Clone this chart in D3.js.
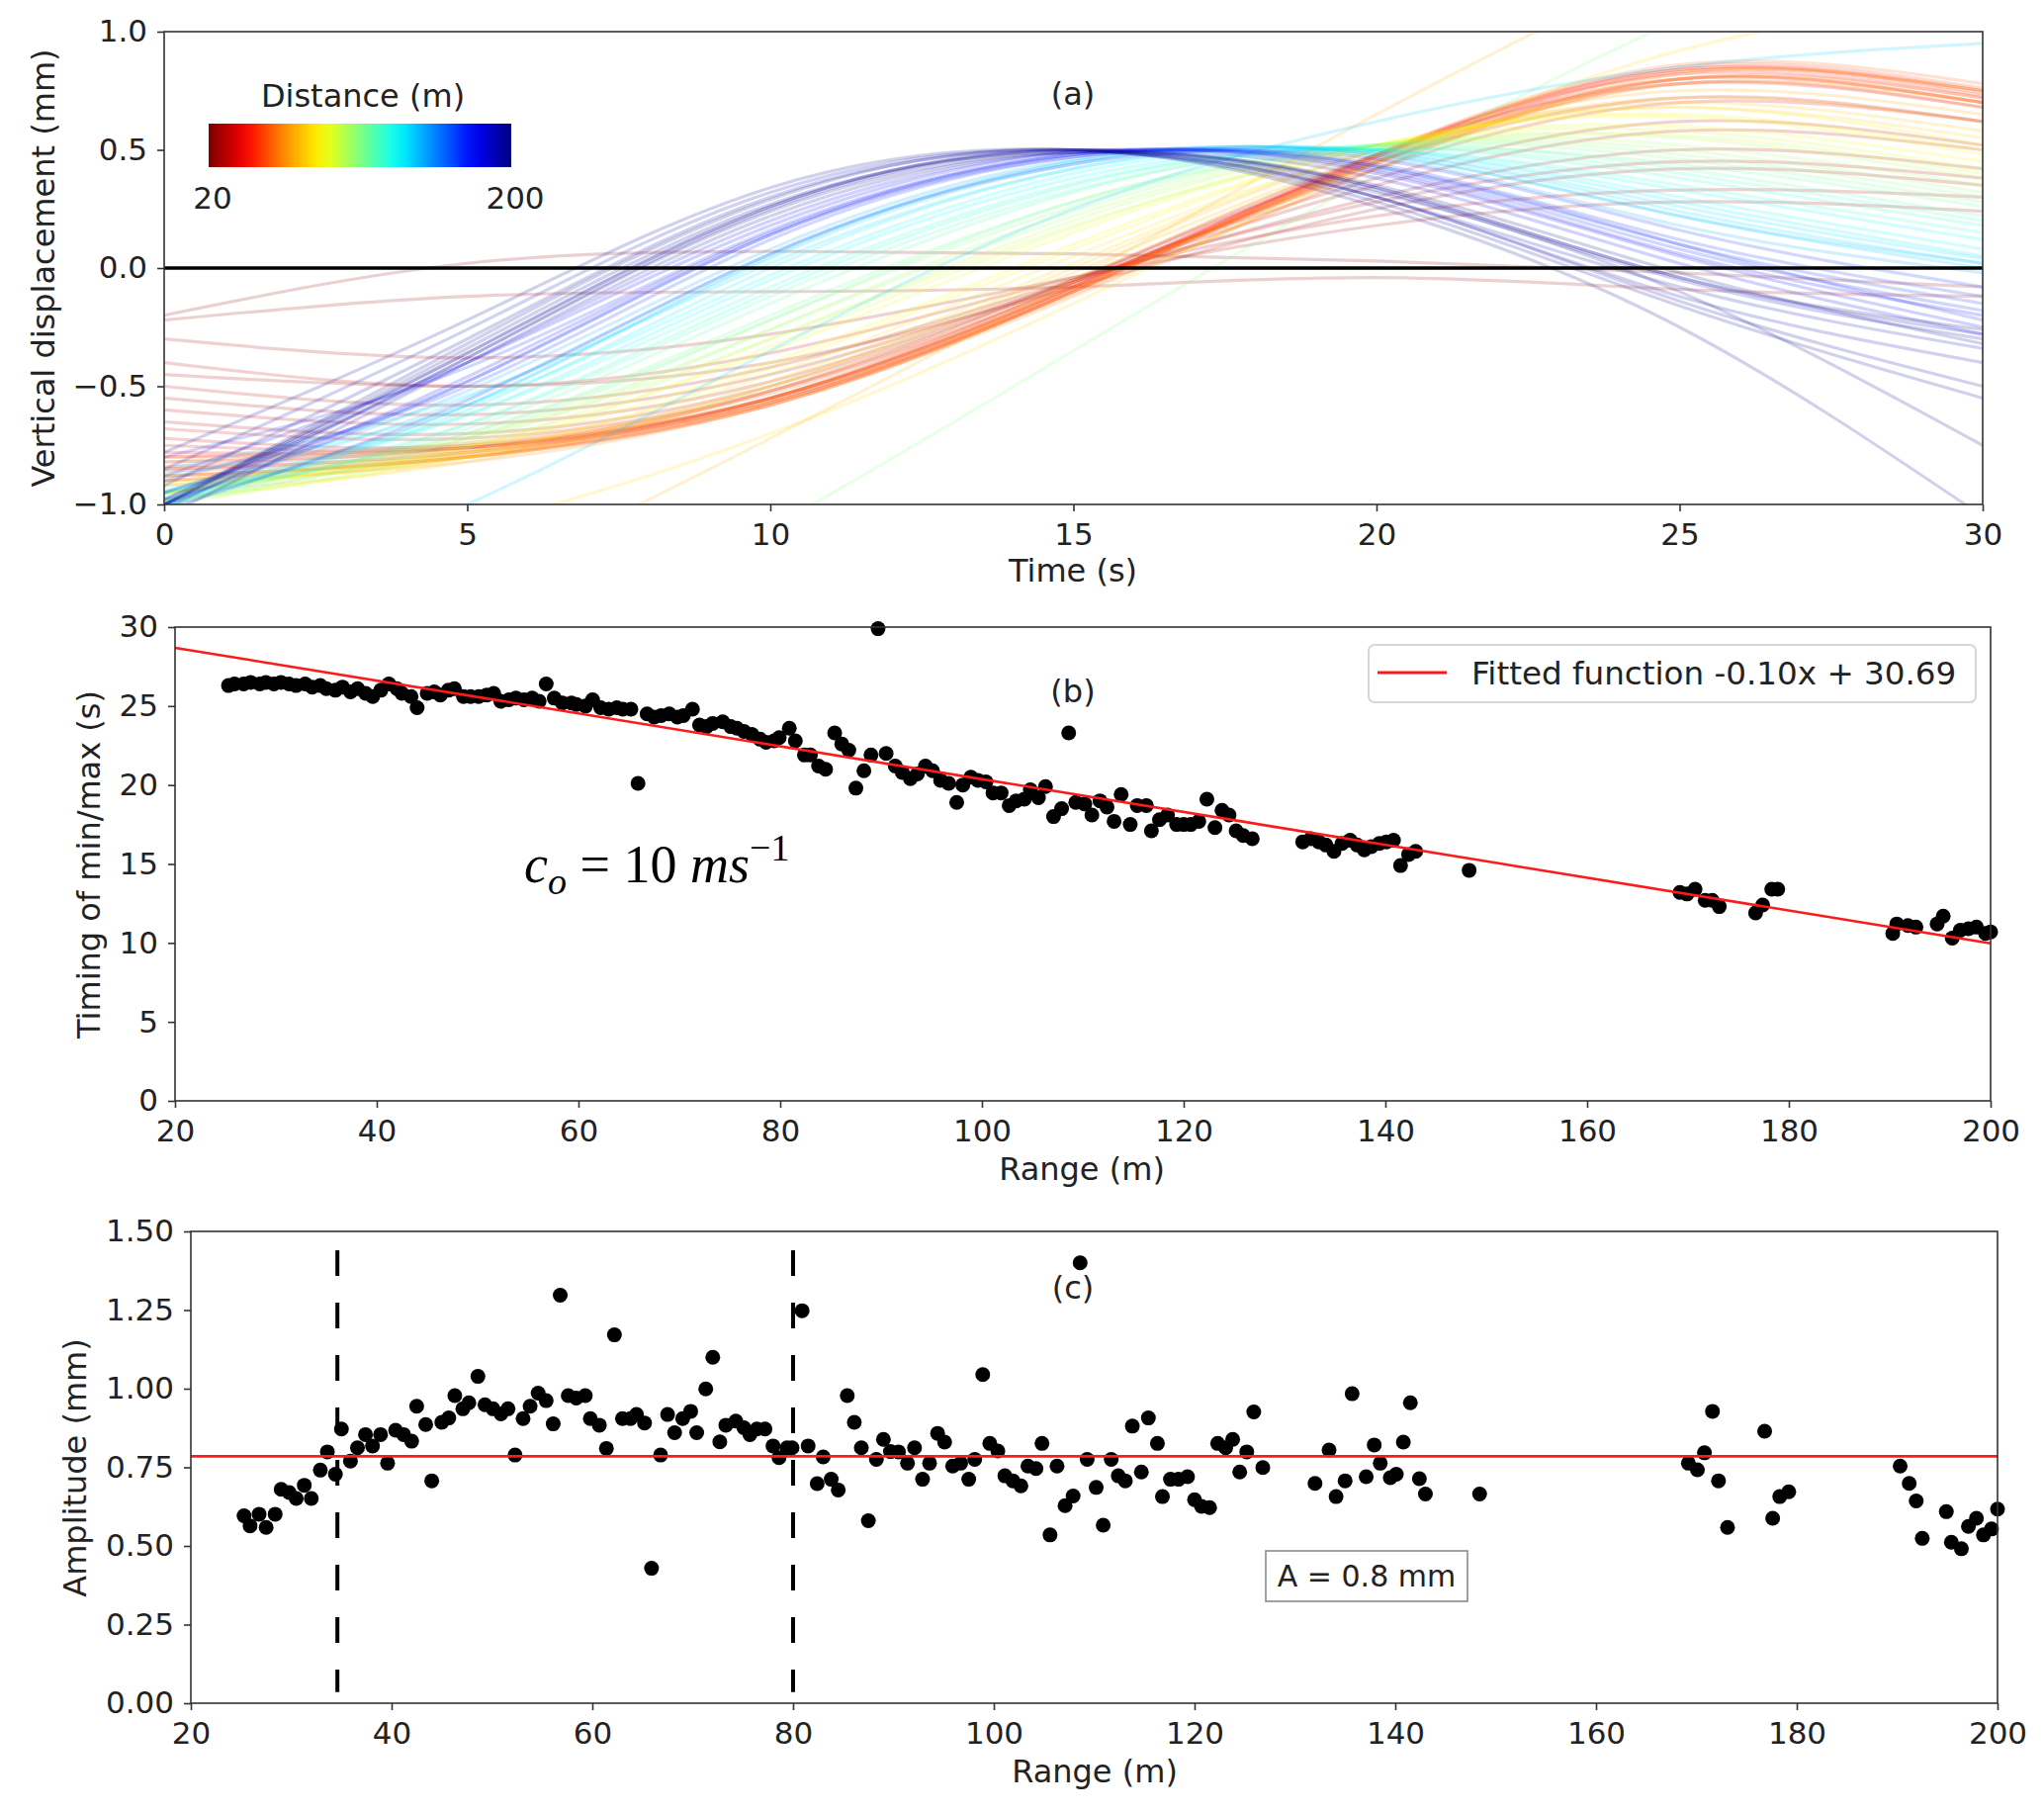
<!DOCTYPE html>
<html>
<head>
<meta charset="utf-8">
<script src="https://cdn.jsdelivr.net/npm/d3@7"></script>
<style>
  body { margin: 0; background: #fff; }
  text { font-family: "DejaVu Sans", sans-serif; fill: #222; }
</style>
</head>
<body>
<div id="chart"></div>
<script>
// ---- data ----

// (a) displacement traces: knot values at these times, one row per distance
var knotTimes = [0, 5, 10, 15, 20, 25, 30];
var curveDistance = [22, 24, 26, 27, 28, 29, 30, 31, 32, 34, 36, 38, 40, 43, 45, 47, 49, 51, 53, 55,
  57, 59, 61, 63, 65, 67, 70, 72, 73, 76, 79, 80, 82, 85, 88, 91, 94, 97, 100, 103,
  106, 109, 110, 112, 115, 118, 121, 124, 126, 132, 134, 136, 138, 140, 141, 142, 143, 148,
  169, 170, 171, 172, 173, 177, 178, 179, 190, 191, 192, 193, 195, 196, 197, 198, 199, 200];
var curveKnots = [
  [-0.20, 0.02, 0.07, 0.06, 0.03, -0.02, -0.08],
  [-0.22, -0.12, -0.10, -0.08, -0.04, -0.09, -0.12],
  [-0.30, -0.38, -0.28, -0.04, 0.18, 0.28, 0.24],
  [-0.45, -0.50, -0.40, -0.08, 0.25, 0.42, 0.35],
  [-0.55, -0.62, -0.45, -0.06, 0.30, 0.50, 0.42],
  [-0.50, -0.58, -0.42, -0.05, 0.28, 0.45, 0.38],
  [-0.65, -0.70, -0.50, -0.06, 0.35, 0.58, 0.50],
  [-0.60, -0.66, -0.48, -0.05, 0.38, 0.62, 0.52],
  [-0.40, -0.50, -0.36, -0.04, 0.22, 0.33, 0.30],
  [-0.72, -0.75, -0.52, -0.05, 0.45, 0.72, 0.62],
  [-0.75, -0.76, -0.55, -0.06, 0.48, 0.78, 0.68],
  [-0.68, -0.72, -0.52, -0.07, 0.42, 0.70, 0.62],
  [-0.78, -0.76, -0.55, -0.08, 0.47, 0.80, 0.70],
  [-0.80, -0.76, -0.55, -0.08, 0.48, 0.82, 0.72],
  [-0.85, -0.78, -0.56, -0.09, 0.48, 0.84, 0.75],
  [-0.82, -0.77, -0.57, -0.10, 0.46, 0.83, 0.73],
  [-0.88, -0.80, -0.58, -0.10, 0.47, 0.85, 0.76],
  [-0.84, -0.76, -0.55, -0.08, 0.45, 0.80, 0.70],
  [-0.86, -0.79, -0.57, -0.09, 0.47, 0.84, 0.74],
  [-0.80, -0.74, -0.53, -0.07, 0.44, 0.78, 0.68],
  [-0.90, -0.80, -0.58, -0.10, 0.48, 0.86, 0.78],
  [-0.85, -0.78, -0.56, -0.11, 0.42, 0.80, 0.72],
  [-0.88, -0.80, -0.57, -0.10, 0.45, 0.83, 0.75],
  [-0.82, -0.75, -0.55, -0.09, 0.44, 0.80, 0.70],
  [-0.90, -0.82, -0.58, -0.12, 0.42, 0.82, 0.75],
  [-0.88, -0.80, -0.55, -0.08, 0.45, 0.78, 0.70],
  [-0.92, -0.80, -0.52, -0.05, 0.48, 0.75, 0.65],
  [-1.90, -1.35, -0.72, -0.05, 0.65, 1.30, 1.90],
  [-0.90, -0.78, -0.50, -0.02, 0.48, 0.72, 0.62],
  [-0.95, -0.82, -0.50, 0.00, 0.50, 0.70, 0.58],
  [-0.92, -0.80, -0.48, 0.02, 0.50, 0.68, 0.55],
  [-1.40, -1.10, -0.70, -0.15, 0.45, 0.92, 1.15],
  [-0.95, -0.78, -0.45, 0.05, 0.50, 0.68, 0.52],
  [-0.98, -0.80, -0.42, 0.08, 0.52, 0.65, 0.50],
  [-0.95, -0.76, -0.40, 0.10, 0.52, 0.64, 0.48],
  [-0.95, -0.75, -0.35, 0.15, 0.52, 0.60, 0.45],
  [-0.98, -0.78, -0.33, 0.17, 0.52, 0.58, 0.42],
  [-0.92, -0.72, -0.30, 0.18, 0.50, 0.56, 0.40],
  [-1.00, -0.76, -0.30, 0.20, 0.52, 0.55, 0.38],
  [-0.95, -0.72, -0.26, 0.22, 0.52, 0.52, 0.35],
  [-0.98, -0.74, -0.26, 0.24, 0.52, 0.50, 0.32],
  [-0.95, -0.70, -0.22, 0.26, 0.52, 0.48, 0.30],
  [-2.30, -1.75, -1.10, -0.35, 0.40, 1.05, 1.55],
  [-1.00, -0.72, -0.22, 0.28, 0.52, 0.46, 0.28],
  [-0.96, -0.70, -0.20, 0.28, 0.50, 0.44, 0.26],
  [-0.98, -0.68, -0.15, 0.32, 0.52, 0.42, 0.22],
  [-0.95, -0.66, -0.12, 0.33, 0.51, 0.40, 0.20],
  [-1.00, -0.66, -0.10, 0.35, 0.51, 0.38, 0.18],
  [-0.94, -0.62, -0.08, 0.36, 0.50, 0.35, 0.15],
  [-0.98, -0.62, -0.05, 0.38, 0.50, 0.33, 0.12],
  [-0.88, -0.58, -0.03, 0.40, 0.50, 0.30, 0.08],
  [-1.00, -0.60, 0.00, 0.42, 0.50, 0.28, 0.05],
  [-0.85, -0.54, 0.02, 0.42, 0.49, 0.26, 0.04],
  [-0.98, -0.58, 0.04, 0.44, 0.49, 0.24, 0.02],
  [-1.50, -1.00, -0.35, 0.25, 0.62, 0.85, 0.95],
  [-0.95, -0.55, 0.06, 0.45, 0.48, 0.22, 0.00],
  [-1.00, -0.58, 0.05, 0.45, 0.48, 0.22, 0.02],
  [-0.95, -0.52, 0.08, 0.46, 0.47, 0.18, -0.02],
  [-0.90, -0.50, 0.12, 0.47, 0.44, 0.12, -0.12],
  [-0.95, -0.48, 0.14, 0.48, 0.43, 0.10, -0.15],
  [-1.02, -0.56, 0.06, 0.44, 0.46, 0.16, -0.08],
  [-0.80, -0.42, 0.16, 0.48, 0.42, 0.08, -0.18],
  [-1.00, -0.48, 0.14, 0.47, 0.43, 0.10, -0.22],
  [-0.88, -0.40, 0.18, 0.49, 0.40, 0.05, -0.25],
  [-1.00, -0.46, 0.15, 0.48, 0.41, 0.06, -0.20],
  [-0.98, -0.40, 0.20, 0.49, 0.38, 0.02, -0.28],
  [-1.00, -0.36, 0.26, 0.50, 0.33, -0.05, -0.30],
  [-0.85, -0.26, 0.32, 0.50, 0.30, -0.08, -0.34],
  [-1.02, -0.38, 0.25, 0.50, 0.34, -0.04, -0.28],
  [-0.92, -0.30, 0.30, 0.50, 0.30, -0.12, -0.40],
  [-1.00, -0.34, 0.27, 0.49, 0.30, -0.14, -0.50],
  [-0.78, -0.22, 0.34, 0.50, 0.28, -0.16, -0.55],
  [-1.05, -0.40, 0.22, 0.49, 0.35, -0.02, -0.32],
  [-1.00, -0.32, 0.29, 0.50, 0.26, -0.25, -1.05],
  [-0.98, -0.36, 0.26, 0.50, 0.32, -0.10, -0.75],
  [-1.00, -0.38, 0.24, 0.49, 0.34, -0.04, -0.26]
];

// (b) timing of min/max vs range
var rangeB = [25.3, 25.9, 26.8, 27.5, 28.4, 29.0, 29.8, 30.5, 31.3, 32.0, 32.9, 33.6, 34.4, 35.0, 35.9,
  36.6, 37.4, 38.1, 38.9, 39.6, 40.4, 41.2, 42.0, 42.5, 43.4, 44.0, 45.0, 45.7, 46.3, 47.1, 47.7,
  48.6, 49.3, 50.1, 50.9, 51.6, 52.3, 53.1, 53.8, 54.6, 55.4, 56.1, 56.8, 57.6, 58.4, 59.3, 59.8,
  60.7, 61.4, 62.2, 63.0, 63.8, 64.4, 65.2, 65.9, 66.8, 67.5, 68.2, 69.0, 69.8, 70.4, 71.3, 72.0,
  72.7, 73.3, 74.3, 75.1, 75.7, 76.4, 77.2, 78.0, 78.6, 79.4, 79.9, 80.9, 81.5, 82.4, 83.0, 83.8,
  84.5, 85.4, 86.1, 86.8, 87.5, 88.3, 89.0, 89.7, 90.5, 91.4, 92.1, 92.9, 93.6, 94.4, 95.1, 95.9,
  96.7, 97.5, 98.1, 98.9, 99.6, 100.4, 101.1, 101.9, 102.7, 103.4, 104.2, 104.8, 105.6, 106.3,
  107.1, 107.9, 108.6, 109.3, 110.2, 110.9, 111.7, 112.4, 113.1, 113.8, 114.7, 115.4, 116.3,
  116.8, 117.6, 118.4, 119.3, 120.0, 120.7, 121.5, 122.3, 123.1, 123.8, 124.5, 125.2, 125.9,
  126.8, 131.8, 132.6, 133.4, 134.1, 134.9, 135.7, 136.5, 137.2, 137.9, 138.6, 139.4, 140.1,
  140.8, 141.5, 142.3, 143.0, 148.3, 169.2, 169.9, 170.7, 171.7, 172.4, 173.1, 176.7, 177.4,
  178.3, 178.9, 190.3, 190.7, 191.8, 192.6, 194.7, 195.3, 196.2, 197.0, 197.8, 198.6, 199.5, 200.0];
var timing = [26.3, 26.4, 26.4, 26.5, 26.4, 26.5, 26.4, 26.5, 26.4, 26.3, 26.4, 26.2, 26.3, 26.1, 26.0,
  26.2, 25.9, 26.1, 25.8, 25.6, 26.0, 26.4, 26.1, 25.8, 25.6, 24.9, 25.8, 25.9, 25.7, 26.0, 26.1,
  25.6, 25.6, 25.6, 25.7, 25.8, 25.3, 25.4, 25.5, 25.4, 25.5, 25.3, 26.4, 25.5, 25.2, 25.2, 25.1,
  25.0, 25.4, 24.9, 24.8, 24.9, 24.8, 24.8, 20.1, 24.5, 24.3, 24.4, 24.5, 24.3, 24.4, 24.8, 23.8,
  23.7, 23.9, 24.0, 23.7, 23.6, 23.4, 23.2, 22.9, 22.7, 22.8, 23.0, 23.6, 22.8, 21.9, 21.9, 21.2,
  21.0, 23.3, 22.6, 22.2, 19.8, 20.9, 21.9, 29.9, 22.0, 21.2, 20.8, 20.4, 20.7, 21.2, 20.9, 20.3,
  20.1, 18.9, 20.0, 20.5, 20.3, 20.2, 19.5, 19.5, 18.7, 19.0, 19.1, 19.7, 19.2, 19.9,
  18.0, 18.5, 23.3, 18.9, 18.8, 18.1, 19.0, 18.6, 17.7, 19.4, 17.5, 18.7, 18.7,
  17.1, 17.8, 18.1, 17.5, 17.5, 17.5, 17.7, 19.1, 17.3, 18.4, 18.1, 17.1, 16.8,
  16.6, 16.4, 16.6, 16.4, 16.2, 15.8, 16.3, 16.5, 16.2, 15.9, 16.1, 16.3, 16.4,
  16.5, 14.9, 15.6, 15.8, 14.6, 13.2, 13.1, 13.4, 12.7, 12.7, 12.3, 11.9, 12.4,
  13.4, 13.4, 10.6, 11.2, 11.1, 11.0, 11.2, 11.7, 10.3, 10.8, 10.9, 11.0, 10.6, 10.7];
// fitted line as drawn (legend shows the rounded values)
var fitSlope = -0.104, fitIntercept = 30.77;

// (c) amplitude vs range
var rangeC = [25.3, 25.9, 26.8, 27.5, 28.4, 29.0, 29.8, 30.5, 31.3, 32.0, 32.9, 33.6, 34.4, 35.0, 35.9,
  36.6, 37.4, 38.1, 38.9, 39.6, 40.4, 41.2, 42.0, 42.5, 43.4, 44.0, 45.0, 45.7, 46.3, 47.1, 47.7,
  48.6, 49.3, 50.1, 50.9, 51.6, 52.3, 53.1, 53.8, 54.6, 55.4, 56.1, 56.8, 57.6, 58.4, 59.3, 59.8,
  60.7, 61.4, 62.2, 63.0, 63.8, 64.4, 65.2, 65.9, 66.8, 67.5, 68.2, 69.0, 69.8, 70.4, 71.3, 72.0,
  72.7, 73.3, 74.3, 75.1, 75.7, 76.4, 77.2, 78.0, 78.6, 79.4, 79.9, 80.9, 81.5, 82.4, 83.0, 83.8,
  84.5, 85.4, 86.1, 86.8, 87.5, 88.3, 89.0, 89.7, 90.5, 91.4, 92.1, 92.9, 93.6, 94.4, 95.1, 95.9,
  96.7, 97.5, 98.1, 98.9, 99.6, 100.4, 101.1, 101.9, 102.7, 103.4, 104.2, 104.8, 105.6, 106.3,
  107.1, 107.9, 108.6, 109.3, 110.2, 110.9, 111.7, 112.4, 113.1, 113.8, 114.7, 115.4, 116.3,
  116.8, 117.6, 118.4, 119.3, 120.0, 120.7, 121.5, 122.3, 123.1, 123.8, 124.5, 125.2, 125.9,
  126.8, 132.0, 133.4, 134.1, 135.0, 135.7, 137.1, 137.9, 138.5, 139.5, 140.1, 140.8, 141.5,
  142.4, 143.0, 148.4, 169.2, 170.1, 170.8, 171.6, 172.2, 173.1, 176.8, 177.6, 178.3, 179.2,
  190.3, 191.2, 191.9, 192.5, 194.9, 195.4, 196.4, 197.1, 197.9, 198.6, 199.4, 200.0];
var amplitude = [0.596, 0.564, 0.601, 0.559, 0.601, 0.680, 0.670, 0.651, 0.693, 0.651, 0.741, 0.799, 0.728, 0.872, 0.770,
  0.812, 0.854, 0.818, 0.854, 0.763, 0.868, 0.854, 0.833, 0.944, 0.886, 0.707, 0.893, 0.907, 0.978, 0.936, 0.955,
  1.039, 0.949, 0.936, 0.920, 0.936, 0.789, 0.905, 0.944, 0.986, 0.962, 0.888, 1.297, 0.978, 0.970, 0.978, 0.905,
  0.884, 0.810, 1.171, 0.905, 0.905, 0.918, 0.891, 0.429, 0.789, 0.918, 0.860, 0.905, 0.928, 0.860, 0.999, 1.100,
  0.831, 0.884, 0.897, 0.876, 0.854, 0.872, 0.872, 0.818, 0.781, 0.812, 0.812, 1.248, 0.818, 0.698, 0.783, 0.712,
  0.678, 0.978, 0.893, 0.812, 0.580, 0.775, 0.839, 0.800, 0.799, 0.763, 0.812, 0.712, 0.763, 0.858, 0.830, 0.754,
  0.763, 0.712, 0.775, 1.045, 0.826, 0.802, 0.723, 0.707, 0.691, 0.754, 0.746, 0.826, 0.535, 0.754,
  0.628, 0.659, 1.400, 0.775, 0.686, 0.566, 0.775, 0.723, 0.707, 0.881, 0.735, 0.907, 0.826,
  0.657, 0.712, 0.712, 0.720, 0.647, 0.626, 0.622, 0.826, 0.812, 0.839, 0.735, 0.799, 0.926,
  0.749, 0.699, 0.805, 0.657, 0.707, 0.984, 0.720, 0.821, 0.763, 0.717, 0.728, 0.830, 0.955,
  0.714, 0.665, 0.665, 0.763, 0.742, 0.796, 0.928, 0.707, 0.559, 0.865, 0.588, 0.657, 0.672,
  0.754, 0.699, 0.643, 0.524, 0.609, 0.512, 0.491, 0.562, 0.588, 0.535, 0.554, 0.617];
var meanAmplitude = 0.785;
var markerRanges = [34.6, 80];
var markerSpan = [0.035, 1.44];

// tick values
var ticksA_x = [0, 5, 10, 15, 20, 25, 30];
var ticksA_y = [-1, -0.5, 0, 0.5, 1];
var ticksB_x = [20, 40, 60, 80, 100, 120, 140, 160, 180, 200];
var ticksB_y = [0, 5, 10, 15, 20, 25, 30];
var ticksC_y = [0, 0.25, 0.5, 0.75, 1.0, 1.25, 1.5];

// ---- layout ----
var W = 2067, H = 1833;
var boxA = { left: 166, right: 2005, top: 32, bottom: 510 };
var boxB = { left: 177, right: 2013, top: 634, bottom: 1113 };
var boxC = { left: 193, right: 2020, top: 1245, bottom: 1722 };

var svg = d3.select("#chart").append("svg")
  .attr("width", W).attr("height", H)
  .style("background", "#fff");

// reversed jet colour map: 20 m dark red ... 200 m dark blue
var jet = d3.scaleLinear()
  .domain([20, 42.5, 65, 87.5, 110, 132.5, 155, 177.5, 200])
  .range(["#7f0000", "#ff0000", "#ff8c00", "#ffff00", "#80ff80", "#00ffff", "#0080ff", "#0000ff", "#00007f"])
  .interpolate(d3.interpolateRgb);

function drawAxes(box, x, y, xTicks, yTicks, xFmt, yFmt) {
  var gx = svg.append("g")
    .attr("transform", "translate(0," + box.bottom + ")")
    .call(d3.axisBottom(x).tickValues(xTicks).tickFormat(xFmt).tickSize(7).tickPadding(12));
  var gy = svg.append("g")
    .attr("transform", "translate(" + box.left + ",0)")
    .call(d3.axisLeft(y).tickValues(yTicks).tickFormat(yFmt).tickSize(7).tickPadding(10));
  [gx, gy].forEach(function(g) {
    g.select(".domain").remove();
    g.selectAll("line").attr("stroke", "#333").attr("stroke-width", 1.6);
    g.selectAll("text").attr("font-size", 31).attr("font-family", "DejaVu Sans").attr("fill", "#222");
  });
  svg.append("rect")
    .attr("x", box.left).attr("y", box.top)
    .attr("width", box.right - box.left).attr("height", box.bottom - box.top)
    .attr("fill", "none").attr("stroke", "#333").attr("stroke-width", 1.6);
}

function label(x, y, txt, size, rotate) {
  var t = svg.append("text")
    .attr("x", x).attr("y", y)
    .attr("text-anchor", "middle")
    .attr("font-size", size)
    .text(txt);
  if (rotate) t.attr("transform", "rotate(-90," + x + "," + y + ")");
  return t;
}

// ---- panel (a) ----
var xA = d3.scaleLinear().domain([0, 30]).range([boxA.left, boxA.right]);
var yA = d3.scaleLinear().domain([-1, 1]).range([boxA.bottom, boxA.top]);

var defs = svg.append("defs");
defs.append("clipPath").attr("id", "clipA")
  .append("rect")
  .attr("x", boxA.left).attr("y", boxA.top)
  .attr("width", boxA.right - boxA.left).attr("height", boxA.bottom - boxA.top);
defs.append("filter").attr("id", "soft")
  .append("feGaussianBlur").attr("stdDeviation", 0.7);

var traceLine = d3.line()
  .x(function(d, i) { return xA(knotTimes[i]); })
  .y(function(d) { return yA(d); })
  .curve(d3.curveNatural);

svg.append("g")
  .attr("clip-path", "url(#clipA)")
  .append("g")
  .attr("filter", "url(#soft)")
  .selectAll("path")
  .data(curveKnots)
  .enter()
  .append("path")
  .attr("d", traceLine)
  .attr("fill", "none")
  .attr("stroke", function(d, i) { return jet(curveDistance[i]); })
  .attr("stroke-opacity", 0.18)
  .attr("stroke-width", 3.2);

// zero line
svg.append("line")
  .attr("x1", xA(0)).attr("x2", xA(30))
  .attr("y1", yA(0)).attr("y2", yA(0))
  .attr("stroke", "#000").attr("stroke-width", 3.5);

drawAxes(boxA, xA, yA, ticksA_x, ticksA_y, d3.format("d"), d3.format(".1f"));
label(1085, 588, "Time (s)", 32);
label(55, 271, "Vertical displacement (mm)", 32, true);
label(1085, 106, "(a)", 32);

// colour bar
var cbar = { x: 211, y: 125, w: 306, h: 44 };
var grad = defs.append("linearGradient").attr("id", "jetGrad");
d3.range(0, 1.0001, 0.05).forEach(function(p) {
  grad.append("stop")
    .attr("offset", (p * 100) + "%")
    .attr("stop-color", jet(20 + p * 180));
});
svg.append("rect")
  .attr("x", cbar.x).attr("y", cbar.y)
  .attr("width", cbar.w).attr("height", cbar.h)
  .attr("fill", "url(#jetGrad)");
label(cbar.x + cbar.w / 2 + 3, 108, "Distance (m)", 32);
label(cbar.x + 4, 211, "20", 31);
label(cbar.x + cbar.w + 4, 211, "200", 31);

// ---- panel (b) ----
var xB = d3.scaleLinear().domain([20, 200]).range([boxB.left, boxB.right]);
var yB = d3.scaleLinear().domain([0, 30]).range([boxB.bottom, boxB.top]);

svg.append("g")
  .selectAll("circle")
  .data(rangeB)
  .enter()
  .append("circle")
  .attr("cx", function(d) { return xB(d); })
  .attr("cy", function(d, i) { return yB(timing[i]); })
  .attr("r", 7.5)
  .attr("fill", "#000");

svg.append("line")
  .attr("x1", xB(20)).attr("x2", xB(200))
  .attr("y1", yB(fitSlope * 20 + fitIntercept))
  .attr("y2", yB(fitSlope * 200 + fitIntercept))
  .attr("stroke", "#ff1a1a").attr("stroke-width", 2.6);

drawAxes(boxB, xB, yB, ticksB_x, ticksB_y, d3.format("d"), d3.format("d"));
label(1094, 1193, "Range (m)", 32);
label(101, 874, "Timing of min/max (s)", 32, true);
label(1085, 710, "(b)", 32);

// legend
svg.append("rect")
  .attr("x", 1384).attr("y", 652).attr("width", 614).attr("height", 58).attr("rx", 6)
  .attr("fill", "#fff").attr("fill-opacity", 0.8)
  .attr("stroke", "#d6d6d6").attr("stroke-width", 2);
svg.append("line")
  .attr("x1", 1393).attr("x2", 1463).attr("y1", 680).attr("y2", 680)
  .attr("stroke", "#ff1a1a").attr("stroke-width", 3);
svg.append("text")
  .attr("x", 1488).attr("y", 692)
  .attr("font-size", 32.6)
  .text("Fitted function -0.10x + 30.69");

// c_o = 10 ms^-1 annotation
var eq = svg.append("text")
  .attr("x", 530).attr("y", 892)
  .style("font-family", "'Liberation Serif', 'Times New Roman', serif")
  .style("font-size", "54px")
  .style("fill", "#000");
eq.append("tspan").attr("font-style", "italic").text("c");
eq.append("tspan").attr("font-style", "italic").attr("font-size", "38px").attr("dy", 12).text("o");
eq.append("tspan").attr("dy", -12).text(" = 10 ");
eq.append("tspan").attr("font-style", "italic").text("ms");
eq.append("tspan").attr("font-size", "38px").attr("dy", -22).text("\u22121");

// ---- panel (c) ----
var xC = d3.scaleLinear().domain([20, 200]).range([boxC.left, boxC.right]);
var yC = d3.scaleLinear().domain([0, 1.5]).range([boxC.bottom, boxC.top]);

svg.append("g")
  .selectAll("circle")
  .data(rangeC)
  .enter()
  .append("circle")
  .attr("cx", function(d) { return xC(d); })
  .attr("cy", function(d, i) { return yC(amplitude[i]); })
  .attr("r", 7.5)
  .attr("fill", "#000");

svg.append("line")
  .attr("x1", xC(20)).attr("x2", xC(200))
  .attr("y1", yC(meanAmplitude)).attr("y2", yC(meanAmplitude))
  .attr("stroke", "#ff1a1a").attr("stroke-width", 2.6);

svg.append("g")
  .selectAll("line")
  .data(markerRanges)
  .enter()
  .append("line")
  .attr("x1", function(d) { return xC(d); })
  .attr("x2", function(d) { return xC(d); })
  .attr("y1", yC(markerSpan[1]))
  .attr("y2", yC(markerSpan[0]))
  .attr("stroke", "#000").attr("stroke-width", 4)
  .attr("stroke-dasharray", "26,27");

drawAxes(boxC, xC, yC, ticksB_x, ticksC_y, d3.format("d"), d3.format(".2f"));
label(1107, 1802, "Range (m)", 32);
label(87, 1484, "Amplitude (mm)", 32, true);
label(1085, 1313, "(c)", 32);

// A = 0.8 mm box
svg.append("rect")
  .attr("x", 1280).attr("y", 1568).attr("width", 204).attr("height", 51)
  .attr("fill", "#fff").attr("stroke", "#8a8a8a").attr("stroke-width", 1.6);
label(1382, 1604, "A = 0.8 mm", 30);
</script>
</body>
</html>
